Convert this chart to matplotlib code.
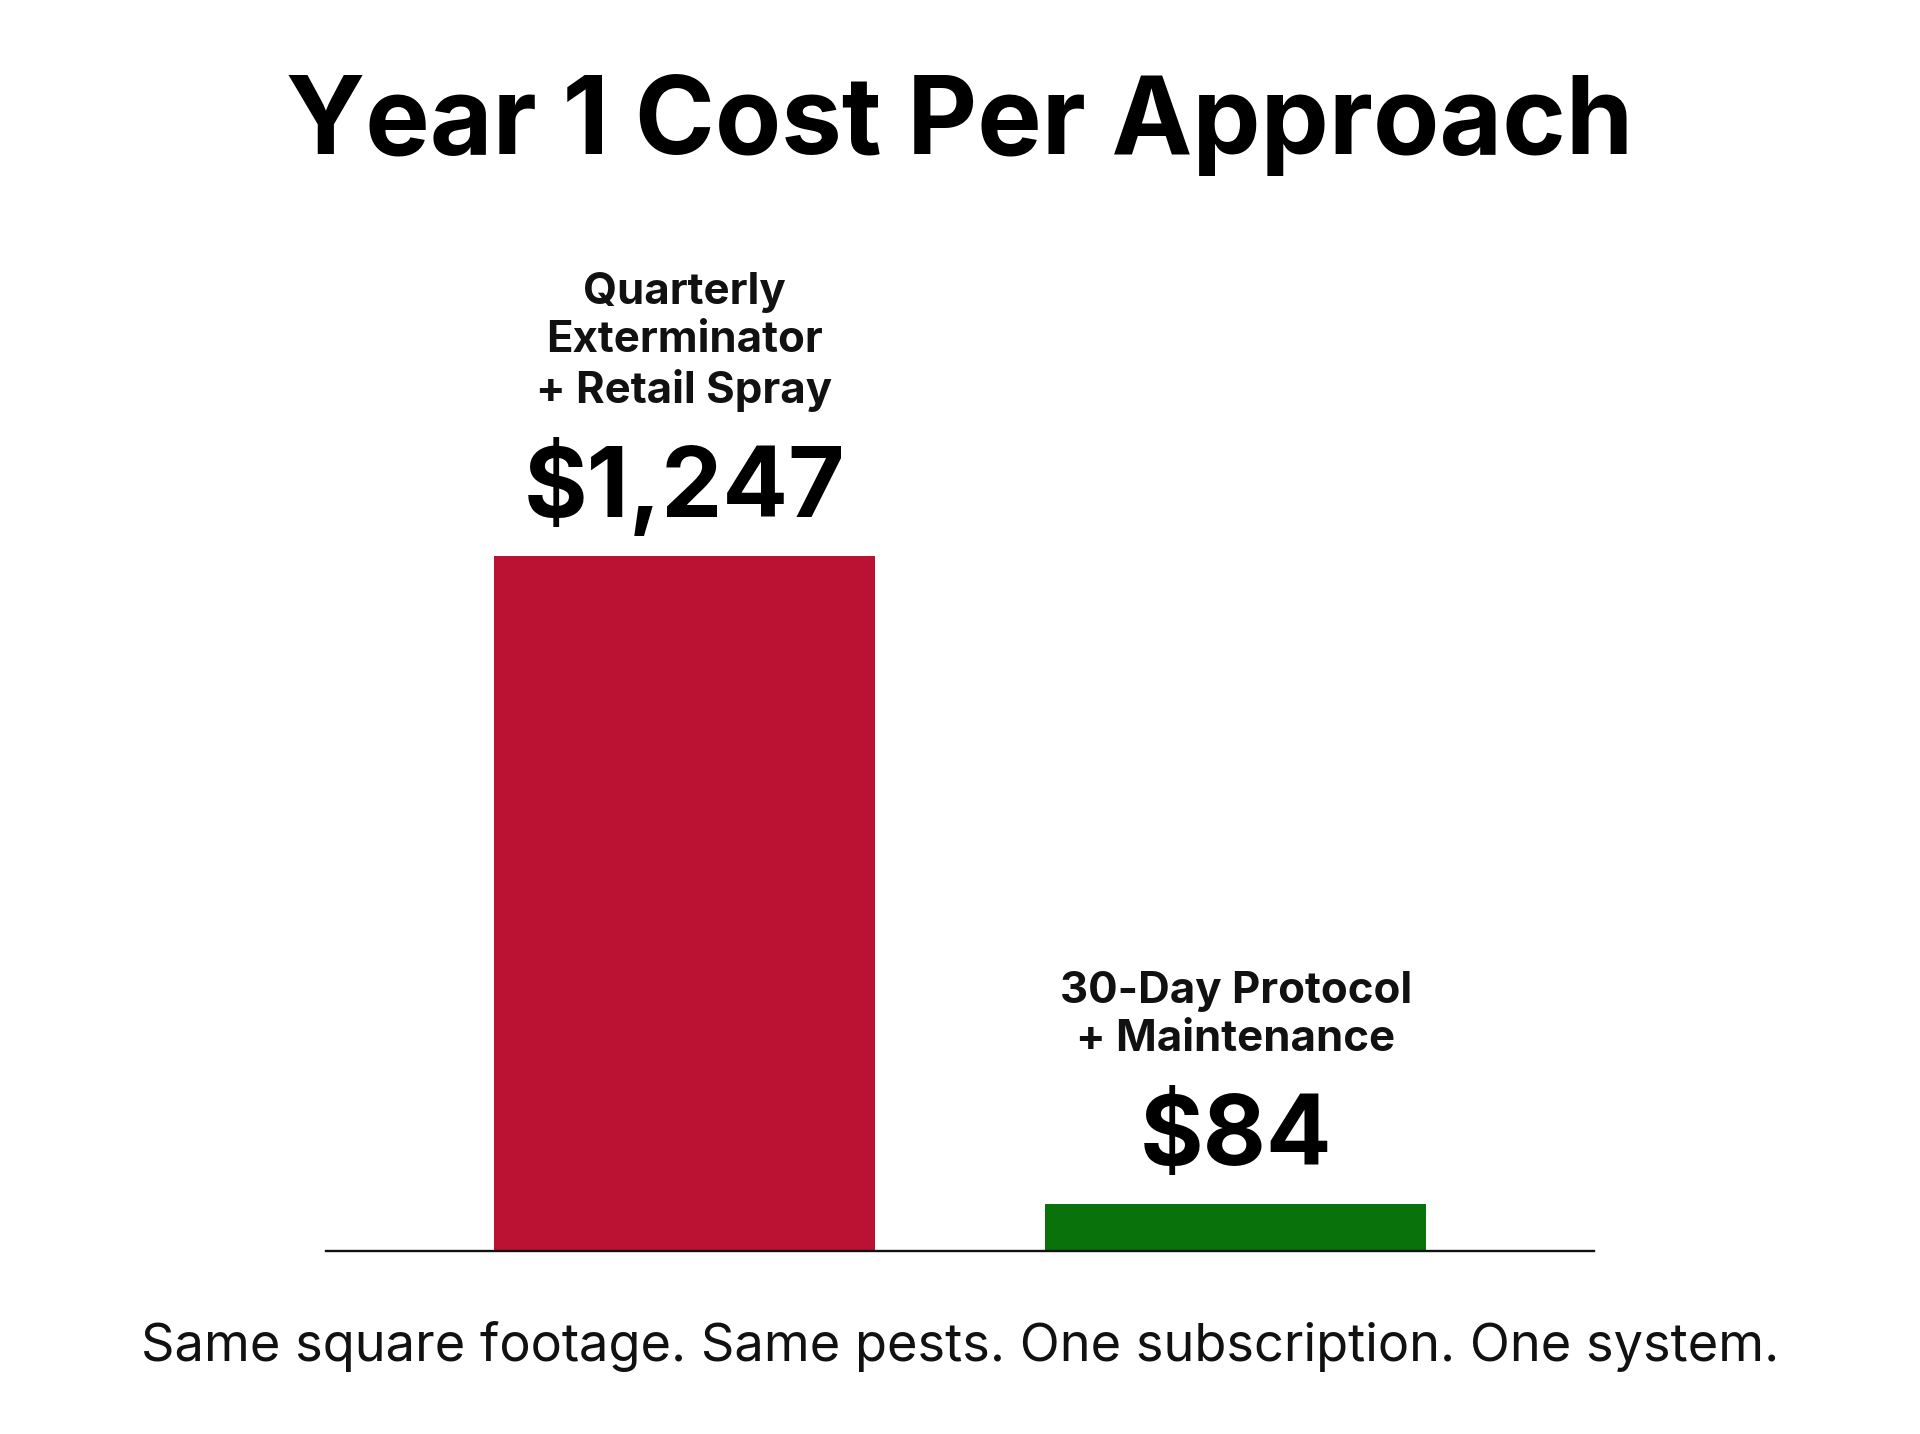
import matplotlib
matplotlib.use("Agg")
import matplotlib.pyplot as plt

categories = ["Quarterly\nExterminator\n+ Retail Spray", "30-Day Protocol\n+ Maintenance"]
values = [1247, 84]
value_labels = ["$1,247", "$84"]
colors = ["#BB1133", "#0A720A"]

title = "Year 1 Cost Per Approach"
subtitle = "Same square footage. Same pests. One subscription. One system."

plt.rcParams['font.family'] = ['Inter', 'DejaVu Sans']

fig = plt.figure(figsize=(19.2, 14.34), dpi=100)
fig.patch.set_facecolor("white")
ax = fig.add_axes([0.1698, 0.1276, 0.6604, 0.7324])

x = list(range(len(values)))
ax.bar(x, values, width=0.69, color=colors, zorder=2)
ax.set_xlim(-0.65, 1.65)
ax.set_ylim(0, 1884)

for s in ["top", "right", "left"]:
    ax.spines[s].set_visible(False)
ax.spines["bottom"].set_linewidth(1.7)
ax.spines["bottom"].set_color("#111111")
ax.set_xticks([])
ax.set_yticks([])

for xi, v, vl, cat in zip(x, values, value_labels, categories):
    ax.annotate(vl, (xi, v), xytext=(0, 28), textcoords="offset points",
                ha="center", va="baseline", fontsize=70, fontweight="bold", color="black")
    ax.annotate(cat, (xi, v), xytext=(0, 28 + 82), textcoords="offset points",
                ha="center", va="baseline", fontsize=31.5, fontweight="bold",
                color="#111111", linespacing=1.23, multialignment="center")

fig.text(0.5, 1 - 125 / 1434, title, ha="center", va="center",
         fontsize=78, fontweight="bold", color="black")
fig.text(0.5, 1 - 1347 / 1434, subtitle, ha="center", va="center",
         fontsize=37.7, color="#111111")

fig.savefig("out.png", dpi=100, facecolor="white")
